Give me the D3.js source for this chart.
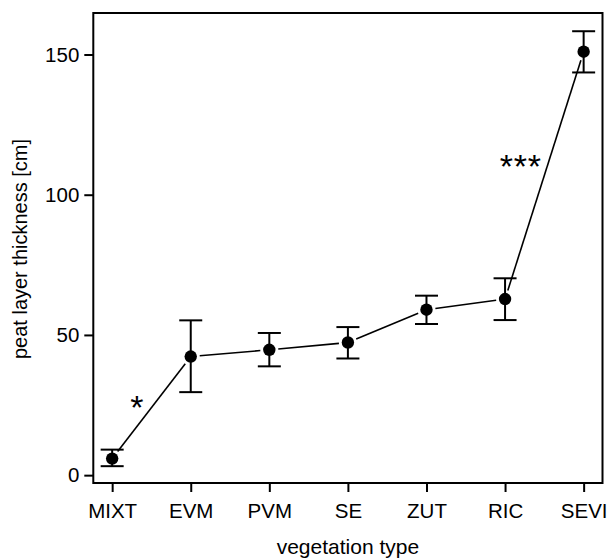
<!DOCTYPE html>
<html>
<head>
<meta charset="utf-8">
<script src="https://cdn.jsdelivr.net/npm/d3@7"></script>
<style>
  body { margin: 0; background: #fff; }
  text { font-family: "Liberation Sans", Arial, sans-serif; fill: #000; }
</style>
</head>
<body>
<div id="figure"></div>
<script>
'use strict';

const categories = ['MIXT', 'EVM', 'PVM', 'SE', 'ZUT', 'RIC', 'SEVI'];
const means = [5.9, 42.3, 44.7, 47.3, 59.0, 62.8, 151.0];
const upper = [9.1, 55.2, 50.7, 52.8, 64.0, 70.2, 158.3];
const lower = [3.2, 29.6, 38.8, 41.6, 53.9, 55.3, 143.6];
const yTicks = [0, 50, 100, 150];
// significance marks: [x position (category index), y value, label]
const marks = [
  [1.32, 20.1, '*'],
  [6.2, 106.1, '***'],
];

const width = 608;
const height = 559;
const margin = { left: 93.3, right: 5.5, top: 13, bottom: 76 };

const x = d3.scaleLinear()
  .domain([0.76, 7.24])
  .range([margin.left, width - margin.right]);

const y = d3.scaleLinear()
  .domain([-2.8, 164.8])
  .range([height - margin.bottom, margin.top]);

const svg = d3.select("div#figure")
  .append("svg")
  .attr("width", width)
  .attr("height", height);

// box
svg.append("rect")
  .attr("x", margin.left)
  .attr("y", margin.top)
  .attr("width", width - margin.left - margin.right)
  .attr("height", height - margin.top - margin.bottom)
  .attr("fill", "none")
  .attr("stroke", "#000")
  .attr("stroke-width", 2);

const xAxis = svg.append("g")
  .attr("transform", `translate(0, ${height - margin.bottom})`)
  .call(d3.axisBottom(x)
    .tickValues(d3.range(1, categories.length + 1))
    .tickFormat(i => categories[i - 1])
    .tickSize(9)
    .tickPadding(11));
xAxis.select(".domain").remove();
xAxis.selectAll("line").attr("stroke-width", 2);
xAxis.selectAll("text").attr("font-size", 20.5).attr("font-family", null);

const yAxis = svg.append("g")
  .attr("transform", `translate(${margin.left}, 0)`)
  .call(d3.axisLeft(y)
    .tickValues(yTicks)
    .tickSize(9)
    .tickPadding(5));
yAxis.select(".domain").remove();
yAxis.selectAll("line").attr("stroke-width", 2);
yAxis.selectAll("text").attr("font-size", 20.5).attr("font-family", null);

// axis titles
svg.append("text")
  .attr("x", (margin.left + width - margin.right) / 2)
  .attr("y", 554)
  .attr("text-anchor", "middle")
  .attr("font-size", 21)
  .text("vegetation type");

svg.append("text")
  .attr("transform", `translate(27, ${(margin.top + height - margin.bottom) / 2 + 1}) rotate(-90)`)
  .attr("text-anchor", "middle")
  .attr("font-size", 20)
  .text("peat layer thickness [cm]");

// connecting line with gaps around points
const gap = 9;
const pts = means.map((m, i) => [x(i + 1), y(m)]);
const segs = d3.pairs(pts).map(([a, b]) => {
  const dx = b[0] - a[0], dy = b[1] - a[1];
  const len = Math.hypot(dx, dy);
  const ux = dx / len, uy = dy / len;
  return [a[0] + ux * gap, a[1] + uy * gap, b[0] - ux * gap, b[1] - uy * gap];
});

svg.append("g")
  .selectAll("line")
  .data(segs)
  .join("line")
  .attr("x1", d => d[0])
  .attr("y1", d => d[1])
  .attr("x2", d => d[2])
  .attr("y2", d => d[3])
  .attr("stroke", "#000")
  .attr("stroke-width", 1.6);

// error bars
const cap = 11.5;
const eb = svg.append("g")
  .attr("stroke", "#000")
  .attr("stroke-width", 2);

categories.forEach((c, i) => {
  const cx = x(i + 1);
  eb.append("line")
    .attr("x1", cx).attr("x2", cx)
    .attr("y1", y(lower[i])).attr("y2", y(upper[i]));
  eb.append("line")
    .attr("x1", cx - cap).attr("x2", cx + cap)
    .attr("y1", y(upper[i])).attr("y2", y(upper[i]));
  eb.append("line")
    .attr("x1", cx - cap).attr("x2", cx + cap)
    .attr("y1", y(lower[i])).attr("y2", y(lower[i]));
});

// points
svg.append("g")
  .selectAll("circle")
  .data(means)
  .join("circle")
  .attr("cx", (d, i) => x(i + 1))
  .attr("cy", d => y(d))
  .attr("r", 6.2)
  .attr("fill", "#000");

// significance asterisks
svg.append("g")
  .selectAll("text")
  .data(marks)
  .join("text")
  .attr("x", d => x(d[0]))
  .attr("y", d => y(d[1]))
  .attr("text-anchor", "middle")
  .attr("font-size", 34)
  .attr("letter-spacing", 0.8)
  .text(d => d[2]);
</script>
</body>
</html>
